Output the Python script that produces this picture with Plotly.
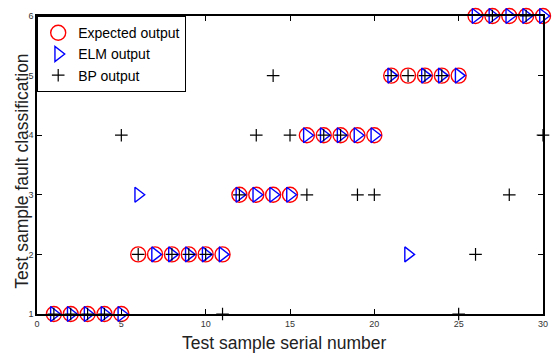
import plotly.graph_objects as go

samples = list(range(1, 31))
expected = [1, 1, 1, 1, 1, 2, 2, 2, 2, 2, 2, 3, 3, 3, 3, 4, 4, 4, 4, 4, 5, 5, 5, 5, 5, 6, 6, 6, 6, 6]
elm = [1, 1, 1, 1, 1, 3, 2, 2, 2, 2, 2, 3, 3, 3, 3, 4, 4, 4, 4, 4, 5, 2, 5, 5, 5, 6, 6, 6, 6, 6]
bp = [1, 1, 1, 1, 4, 2, 5, 2, 2, 2, 1, 3, 4, 5, 4, 3, 4, 4, 3, 3, 5, 5, 5, 5, 1, 2, 6, 3, 6, 4]
x_ticks = [0, 5, 10, 15, 20, 25, 30]
y_ticks = [1, 2, 3, 4, 5, 6]

FONT = "Liberation Sans, Arial"

fig = go.Figure()
fig.add_trace(go.Scatter(x=samples, y=expected, mode="markers", name="Expected output",
                         marker=dict(symbol="circle-open", size=15, color="red", line=dict(width=1.4, color="red")),
                         cliponaxis=False))
fig.add_trace(go.Scatter(x=samples, y=elm, mode="markers", name="ELM output",
                         marker=dict(symbol="triangle-right-open", size=13, color="blue", line=dict(width=1.4, color="blue")),
                         cliponaxis=False))
fig.add_trace(go.Scatter(x=samples, y=bp, mode="markers", name="BP output",
                         marker=dict(symbol="cross-thin-open", size=9, color="black", line=dict(width=1.2, color="black")),
                         cliponaxis=False))

axis_common = dict(showline=True, linecolor="black", linewidth=1.5, mirror="ticks",
                   ticks="inside", ticklen=5, tickcolor="black", tickwidth=1,
                   showgrid=False, zeroline=False, automargin=False,
                   tickfont=dict(family=FONT, size=9, color="#333333"))

fig.update_xaxes(range=[0, 30], tickvals=x_ticks, ticktext=[str(v) for v in x_ticks], **axis_common)
fig.update_yaxes(range=[1, 6], tickvals=y_ticks, ticktext=[str(v) for v in y_ticks],
                 ticklabelstandoff=0, **axis_common)

fig.add_annotation(text="Test sample serial number",
                   xref="paper", yref="paper", x=0.488, y=-0.097, xanchor="center", yanchor="middle",
                   showarrow=False, font=dict(family=FONT, size=17.5, color="#222222"))
fig.add_annotation(text="Test sample fault classification", textangle=-90,
                   xref="paper", yref="paper", x=-0.030, y=0.48, xanchor="center", yanchor="middle",
                   showarrow=False, font=dict(family=FONT, size=17.5, color="#222222"))

fig.update_layout(
    width=553, height=354,
    margin=dict(l=37, r=10, t=16, b=40),
    plot_bgcolor="white", paper_bgcolor="white",
    legend=dict(x=0, y=1, xanchor="left", yanchor="top", bgcolor="white",
                bordercolor="black", borderwidth=1.2,
                font=dict(family=FONT, size=14, color="black"),
                tracegroupgap=0, itemwidth=30),
    showlegend=True,
)

fig.write_html("out.html")
